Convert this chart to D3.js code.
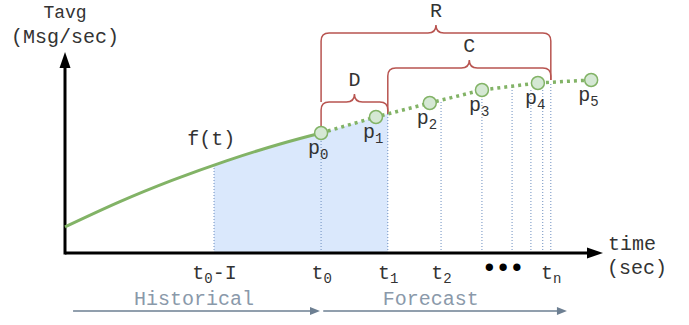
<!DOCTYPE html>
<html>
<head>
<meta charset="utf-8">
<script src="https://cdn.jsdelivr.net/npm/d3@7"></script>
<style>
  html, body { margin: 0; padding: 0; background: #fff; }
  svg { display: block; }
  text { font-family: "Liberation Mono", "Courier New", monospace; }
</style>
</head>
<body>
<svg id="chart" width="689" height="325"></svg>
<script>
// ---- data ----
const histT = [0, 1, 2, 3, 4, 4.76];
const histV = [1.3, 2.54, 3.64, 4.61, 5.45, 6.0];

const pointNames = ["0", "1", "2", "3", "4", "5"];
const forecastT = [4.76, 5.78, 6.78, 7.75, 8.79, 9.78];
const forecastV = [6.0, 6.8, 7.5, 8.15, 8.5, 8.65];

const guideT   = [2.77, 4.76, 6.0, 6.99, 7.75, 8.31, 8.66, 8.88, 9.03];
const guideTop = [4.4, 6.0, 6.95, 7.55, 7.85, 8.3, 8.15, 8.15, 8.55];

const tickT    = [2.77, 4.76, 6.0, 6.99, 9.03];
const tickMain = ["t", "t", "t", "t", "t"];
const tickSub  = ["0", "0", "1", "2", "n"];
const tickTail = ["-I", "", "", "", ""];
const ellipsisT = 8.12;

const fillStart = 2.77, fillEnd = 6.0;

const braceNames  = ["R", "C", "D"];
const braceStart  = [4.76, 6.0, 4.76];
const braceEnd    = [9.03, 9.03, 6.0];
const braceTop    = [11.0, 9.25, 7.55];
const braceLeftTo = [7.55, 6.95, 6.3];
const braceRightTo= [8.65, 8.65, 6.95];

const phaseNames = ["Historical", "Forecast"];
const phaseFrom  = [0.15, 4.80];
const phaseTo    = [4.74, 9.33];
const phaseLabelT= [2.4, 6.8];

// ---- scales ----
const svg = d3.select("#chart");
const x = d3.scaleLinear().domain([0, 10]).range([65, 603]);
const y = d3.scaleLinear().domain([0, 10]).range([253, 53]);

const green = "#82b366", red = "#b85450", blue = "#6c8ebf", ink = "#333";

// ---- fill ----
svg.append("clipPath").attr("id", "fillclip")
  .append("rect")
  .attr("x", x(fillStart)).attr("y", 0)
  .attr("width", x(fillEnd) - x(fillStart)).attr("height", y(0));

const hist = histT.map((t, i) => ({ t, v: histV[i] }));
const fc = forecastT.map((t, i) => ({ t, v: forecastV[i], n: pointNames[i] }));

const areaH = d3.area().x(d => x(d.t)).y0(y(0)).y1(d => y(d.v)).curve(d3.curveNatural);
const areaF = d3.area().x(d => x(d.t)).y0(y(0)).y1(d => y(d.v));
const fillG = svg.append("g").attr("clip-path", "url(#fillclip)");
fillG.append("path").attr("d", areaH(hist)).attr("fill", "#dae8fc");
fillG.append("path").attr("d", areaF(fc)).attr("fill", "#dae8fc");

// ---- guides ----
svg.append("g").selectAll("line").data(guideT).join("line")
  .attr("x1", d => x(d)).attr("x2", d => x(d))
  .attr("y1", y(0)).attr("y2", (d, i) => y(guideTop[i]))
  .attr("stroke", blue).attr("stroke-width", 1).attr("stroke-dasharray", "1,2");

// ---- x axis via d3 axis (ticks labels) ----
const xAxis = d3.axisBottom(x).tickValues(tickT).tickSize(0).tickFormat("");
const axG = svg.append("g").attr("transform", `translate(0,${y(0)})`).call(xAxis);
axG.select(".domain").remove();
axG.selectAll(".tick").each(function(d, i) {
  const g = d3.select(this);
  g.select("text").remove();
  const t = g.append("text").attr("y", 26).attr("text-anchor", "middle")
    .attr("font-size", 20).attr("fill", ink);
  t.append("tspan").text(tickMain[i]);
  t.append("tspan").attr("font-size", 14).attr("dy", 4).text(tickSub[i]);
  if (tickTail[i]) t.append("tspan").attr("dy", -4).text(tickTail[i]);
});
svg.append("text").attr("x", x(ellipsisT)).attr("y", y(0) + 23)
  .attr("text-anchor", "middle").attr("font-family", "Liberation Sans")
  .attr("font-size", 27).attr("letter-spacing", -2.5).attr("fill", "#000").text("•••");

// axis lines with arrows
svg.append("line").attr("x1", x(0)).attr("x2", x(10) - 12).attr("y1", y(0)).attr("y2", y(0))
  .attr("stroke", "#000").attr("stroke-width", 3);
svg.append("path")
  .attr("d", `M${x(10)},${y(0)} L${x(10) - 16},${y(0) - 5.5} L${x(10) - 16},${y(0) + 5.5} Z`)
  .attr("fill", "#000");
svg.append("line").attr("x1", x(0)).attr("x2", x(0)).attr("y1", y(0) + 1.5).attr("y2", y(10) + 12)
  .attr("stroke", "#000").attr("stroke-width", 3);
svg.append("path")
  .attr("d", `M${x(0)},${y(10) - 1} L${x(0) - 5.5},${y(10) + 15} L${x(0) + 5.5},${y(10) + 15} Z`)
  .attr("fill", "#000");

// axis titles
svg.append("text").attr("x", x(0)).attr("y", 18).attr("text-anchor", "middle")
  .attr("font-size", 18).attr("fill", ink).text("Tavg");
svg.append("text").attr("x", x(0)).attr("y", 43).attr("text-anchor", "middle")
  .attr("font-size", 20).attr("fill", ink).text("(Msg/sec)");
svg.append("text").attr("x", 608).attr("y", 250).attr("font-size", 20).attr("fill", ink).text("time");
svg.append("text").attr("x", 607).attr("y", 274).attr("font-size", 20).attr("fill", ink).text("(sec)");

// ---- braces ----
const r = 8, tip = 8;
braceNames.forEach((name, i) => {
  const x0 = x(braceStart[i]), x1 = x(braceEnd[i]), yt = y(braceTop[i]);
  const xm = (x0 + x1) / 2;
  const d = `M${x0},${y(braceLeftTo[i])} L${x0},${yt + r} Q${x0},${yt} ${x0 + r},${yt}` +
    ` L${xm - tip},${yt} Q${xm},${yt} ${xm},${yt - tip} Q${xm},${yt} ${xm + tip},${yt}` +
    ` L${x1 - r},${yt} Q${x1},${yt} ${x1},${yt + r} L${x1},${y(braceRightTo[i])}`;
  svg.append("path").attr("d", d).attr("fill", "none").attr("stroke", red).attr("stroke-width", 1.5);
  svg.append("text").attr("x", xm).attr("y", yt - tip - 8).attr("text-anchor", "middle")
    .attr("font-size", 20).attr("fill", ink).text(name);
});

// ---- lines ----
svg.append("path").attr("d", d3.line().x(d => x(d.t)).y(d => y(d.v)).curve(d3.curveNatural)(hist))
  .attr("fill", "none").attr("stroke", green).attr("stroke-width", 3);
svg.append("path").attr("d", d3.line().x(d => x(d.t)).y(d => y(d.v))(fc))
  .attr("fill", "none").attr("stroke", green).attr("stroke-width", 3.5).attr("stroke-dasharray", "3,4");

svg.append("text").attr("x", x(2.72)).attr("y", 145).attr("text-anchor", "middle")
  .attr("font-size", 20).attr("fill", ink).text("f(t)");

// ---- points ----
svg.append("g").selectAll("circle").data(fc).join("circle")
  .attr("cx", d => x(d.t)).attr("cy", d => y(d.v)).attr("r", 6.5)
  .attr("fill", "#d5e8d4").attr("stroke", green).attr("stroke-width", 1.5);
const pl = svg.append("g").selectAll("text").data(fc).join("text")
  .attr("x", d => x(d.t) - 13).attr("y", d => y(d.v) + 21)
  .attr("font-size", 20).attr("fill", ink);
pl.append("tspan").text("p");
pl.append("tspan").attr("font-size", 14).attr("dy", 5).text(d => d.n);

// ---- phases ----
const gray = "#6d7f92";
phaseNames.forEach((name, i) => {
  const a = x(phaseFrom[i]), b = x(phaseTo[i]), yy = 311;
  svg.append("line").attr("x1", a).attr("x2", b - 8).attr("y1", yy).attr("y2", yy)
    .attr("stroke", gray).attr("stroke-width", 1.5);
  svg.append("path").attr("d", `M${b},${yy} L${b - 10},${yy - 4} L${b - 10},${yy + 4} Z`).attr("fill", gray);
  svg.append("text").attr("x", x(phaseLabelT[i])).attr("y", 305).attr("text-anchor", "middle")
    .attr("font-size", 20).attr("fill", "#8a99aa").text(name);
});
</script>
</body>
</html>
